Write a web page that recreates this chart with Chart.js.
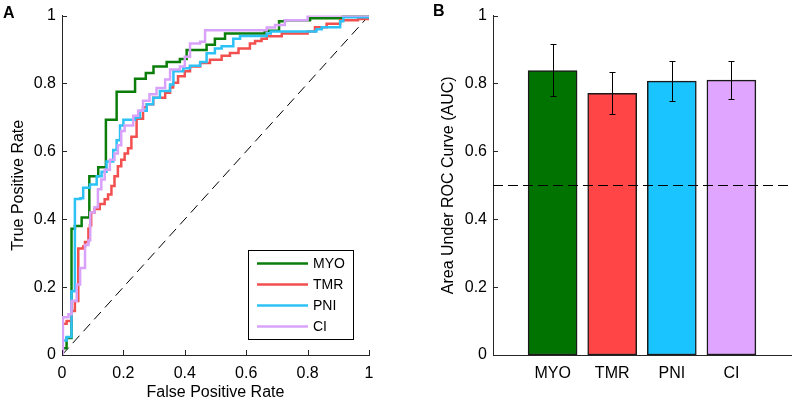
<!DOCTYPE html>
<html>
<head>
<meta charset="utf-8">
<script src="https://cdn.jsdelivr.net/npm/chart.js@4/dist/chart.umd.min.js"></script>
<style>
  body { margin: 0; background: #fff; }
  #wrap { position: relative; width: 800px; height: 402px; font-family: "Liberation Sans", Arial, sans-serif; }
  .panel { position: absolute; top: 0; width: 400px; height: 402px; }
  .tag { position: absolute; font-weight: bold; font-size: 16px; line-height: 18px; color: #000; }
</style>
</head>
<body>
<div id="wrap">
  <div class="panel" style="left:0"><canvas id="chartRoc"></canvas></div>
  <div class="panel" style="left:400px"><canvas id="chartAuc"></canvas></div>
  <div class="tag" style="left:3px;top:4px">A</div>
  <div class="tag" style="left:433px;top:2px">B</div>
</div>
<script>
// datos
const categories = ['MYO', 'TMR', 'PNI', 'CI'];
const tickValues = [0, 0.2, 0.4, 0.6, 0.8, 1];
const tickLabels = ['0', '0.2', '0.4', '0.6', '0.8', '1'];

const myoFpr = [0, 0, 0.015, 0.031, 0.042, 0.064, 0.089, 0.118, 0.143, 0.178, 0.238, 0.273, 0.298, 0.341, 0.384, 0.406, 0.471, 0.498, 0.531, 0.660, 0.707, 0.726, 0.808, 0.915, 1];
const myoTpr = [0, 0.02, 0.05, 0.372, 0.380, 0.405, 0.527, 0.553, 0.693, 0.776, 0.814, 0.831, 0.850, 0.863, 0.872, 0.899, 0.914, 0.932, 0.947, 0.955, 0.983, 0.986, 0.992, 1, 1];

const tmrFpr = [0, 0, 0.015, 0.031, 0.042, 0.053, 0.069, 0.075, 0.086, 0.091, 0.095, 0.106, 0.123, 0.139, 0.150, 0.161, 0.171, 0.182, 0.193, 0.204, 0.215, 0.226, 0.243, 0.264, 0.276, 0.297, 0.336, 0.352, 0.362, 0.378, 0.400, 0.417, 0.450, 0.482, 0.520, 0.547, 0.575, 0.612, 0.629, 0.650, 0.667, 0.716, 0.800, 0.824, 0.862, 0.906, 0.964, 1];
const tmrTpr = [0, 0.092, 0.100, 0.130, 0.159, 0.314, 0.320, 0.333, 0.372, 0.382, 0.420, 0.430, 0.445, 0.459, 0.473, 0.498, 0.527, 0.556, 0.575, 0.594, 0.609, 0.643, 0.696, 0.730, 0.739, 0.758, 0.773, 0.788, 0.802, 0.821, 0.836, 0.850, 0.860, 0.870, 0.882, 0.890, 0.903, 0.918, 0.925, 0.932, 0.939, 0.947, 0.953, 0.966, 0.976, 0.986, 0.990, 1];

const pniFpr = [0, 0, 0.015, 0.031, 0.042, 0.060, 0.069, 0.091, 0.113, 0.129, 0.145, 0.167, 0.178, 0.189, 0.200, 0.238, 0.254, 0.276, 0.297, 0.319, 0.352, 0.363, 0.395, 0.417, 0.450, 0.471, 0.498, 0.520, 0.558, 0.580, 0.667, 0.680, 0.829, 0.846, 0.906, 0.916, 1];
const pniTpr = [0, 0.043, 0.053, 0.188, 0.460, 0.462, 0.493, 0.502, 0.527, 0.540, 0.570, 0.604, 0.633, 0.676, 0.693, 0.700, 0.720, 0.739, 0.758, 0.778, 0.797, 0.836, 0.845, 0.852, 0.863, 0.889, 0.903, 0.910, 0.932, 0.940, 0.947, 0.953, 0.960, 0.966, 0.983, 0.995, 1];

const ciFpr = [0, 0.003, 0.021, 0.031, 0.048, 0.059, 0.075, 0.086, 0.092, 0.106, 0.117, 0.128, 0.139, 0.156, 0.171, 0.182, 0.193, 0.204, 0.232, 0.248, 0.264, 0.285, 0.308, 0.336, 0.352, 0.384, 0.400, 0.417, 0.450, 0.466, 0.667, 0.694, 0.726, 0.800, 1];
const ciTpr = [0, 0.111, 0.120, 0.159, 0.208, 0.256, 0.324, 0.338, 0.420, 0.435, 0.488, 0.517, 0.546, 0.575, 0.594, 0.618, 0.660, 0.676, 0.705, 0.720, 0.749, 0.768, 0.787, 0.812, 0.841, 0.850, 0.879, 0.918, 0.923, 0.957, 0.965, 0.972, 0.986, 1, 1];

const chanceFpr = [0, 1];
const chanceTpr = [0, 1];

const aucValues = [0.838, 0.771, 0.807, 0.810];
const aucLower = [0.762, 0.709, 0.748, 0.754];
const aucUpper = [0.917, 0.835, 0.866, 0.866];
const chanceLevel = 0.5;

const lineColors = ['#0b7d0b', '#f24f4f', '#2cc2f5', '#d9a2fa'];
const barColors = ['#007300', '#ff4545', '#1ac4ff', '#e0a5ff'];
const axisColor = '#262626';
const FONT = '"Liberation Sans", Arial, sans-serif';

Chart.defaults.font.family = FONT;
Chart.defaults.color = '#000';

function pts(xs, ys) { return xs.map((x, i) => ({x: x, y: ys[i]})); }

// ticks hacia adentro
const inwardTicks = {
  id: 'inwardTicks',
  afterDraw(chart, args, opts) {
    const ctx = chart.ctx, len = 5;
    ctx.save();
    ctx.strokeStyle = axisColor;
    ctx.lineWidth = 1;
    ctx.beginPath();
    const ys = chart.scales.y;
    ys.ticks.forEach(t => {
      const py = Math.round(ys.getPixelForValue(t.value)) + 0.5;
      ctx.moveTo(ys.right, py); ctx.lineTo(ys.right + len, py);
    });
    if (opts.xTicks) {
      const xs = chart.scales.x;
      xs.ticks.forEach(t => {
        const px = Math.round(xs.getPixelForValue(t.value)) + 0.5;
        ctx.moveTo(px, xs.top); ctx.lineTo(px, xs.top - len);
      });
    }
    ctx.stroke();
    ctx.restore();
  }
};

// leyenda con caja dentro del area
const boxLegend = {
  id: 'boxLegend',
  afterDraw(chart) {
    const {ctx, chartArea} = chart;
    const w = 105, h = 89;
    const left = chartArea.right - 16 - w, top = chartArea.bottom - 16 - h;
    ctx.save();
    ctx.fillStyle = '#fff';
    ctx.fillRect(left, top, w, h);
    ctx.strokeStyle = '#000';
    ctx.lineWidth = 1;
    ctx.strokeRect(Math.round(left) + 0.5, Math.round(top) + 0.5, w, h);
    ctx.font = '14px ' + FONT;
    ctx.textBaseline = 'middle';
    ctx.fillStyle = '#000';
    categories.forEach((c, i) => {
      const y = top + 13.5 + i * 21;
      ctx.strokeStyle = lineColors[i];
      ctx.lineWidth = 2.5;
      ctx.beginPath();
      ctx.moveTo(left + 9, y); ctx.lineTo(left + 60, y);
      ctx.stroke();
      ctx.fillText(c, left + 65, y + 1);
    });
    ctx.restore();
  }
};

const rocSets = [[myoFpr, myoTpr], [tmrFpr, tmrTpr], [pniFpr, pniTpr], [ciFpr, ciTpr]];

new Chart(document.getElementById('chartRoc'), {
  type: 'line',
  data: {
    datasets: rocSets.map((s, i) => ({
      label: categories[i],
      data: pts(s[0], s[1]),
      borderColor: lineColors[i],
      borderWidth: 2.5,
      pointRadius: 0,
      stepped: 'before',
      order: 4 - i
    })).concat([{
      label: 'chance',
      data: pts(chanceFpr, chanceTpr),
      borderColor: '#000',
      borderWidth: 1,
      borderDash: [10, 6],
      pointRadius: 0,
      order: 10
    }])
  },
  options: {
    responsive: true,
    maintainAspectRatio: false,
    animation: false,
    layout: { padding: { left: 0, right: 31, top: 10, bottom: 0 } },
    plugins: { legend: { display: false }, tooltip: { enabled: false }, inwardTicks: { xTicks: true } },
    scales: {
      x: {
        type: 'linear', min: 0, max: 1,
        afterBuildTicks: s => { s.ticks = tickValues.map(v => ({value: v})); },
        afterFit: s => { s.height = 47; },
        grid: { display: false, drawTicks: false },
        border: { display: true, color: axisColor, width: 1 },
        ticks: { padding: 9, font: { size: 16 }, color: '#000', maxRotation: 0, callback: (v, i) => tickLabels[i] },
        title: { display: true, text: 'False Positive Rate', font: { size: 16 }, color: '#000', padding: { top: 0, bottom: 0 } }
      },
      y: {
        type: 'linear', min: 0, max: 1,
        afterBuildTicks: s => { s.ticks = tickValues.map(v => ({value: v})); },
        afterFit: s => { s.width = 62; },
        grid: { display: false, drawTicks: false },
        border: { display: true, color: axisColor, width: 1 },
        ticks: { padding: 6, font: { size: 16 }, color: '#000', callback: (v, i) => tickLabels[i] },
        title: { display: true, text: 'True Positive Rate', font: { size: 16 }, color: '#000', padding: { top: 9, bottom: 0 } }
      }
    }
  },
  plugins: [inwardTicks, boxLegend]
});

// barras de error y linea de azar
const errorBars = {
  id: 'errorBars',
  afterDatasetsDraw(chart) {
    const {ctx, chartArea} = chart;
    const ys = chart.scales.y;
    const meta = chart.getDatasetMeta(0);
    ctx.save();
    ctx.strokeStyle = '#000';
    ctx.lineWidth = 1;
    ctx.setLineDash([10, 5]);
    const py = Math.round(ys.getPixelForValue(chanceLevel)) + 0.5;
    ctx.beginPath();
    ctx.moveTo(chartArea.left, py); ctx.lineTo(chartArea.right, py);
    ctx.stroke();
    ctx.setLineDash([]);
    ctx.beginPath();
    categories.forEach((c, i) => {
      const bar = meta.data[i + 1];
      const x = Math.round(bar.x) + 0.5;
      const t = Math.round(ys.getPixelForValue(aucUpper[i])) + 0.5;
      const b = Math.round(ys.getPixelForValue(aucLower[i])) + 0.5;
      ctx.moveTo(x, t); ctx.lineTo(x, b);
      ctx.moveTo(x - 3, t); ctx.lineTo(x + 3, t);
      ctx.moveTo(x - 3, b); ctx.lineTo(x + 3, b);
    });
    ctx.stroke();
    ctx.restore();
  }
};

new Chart(document.getElementById('chartAuc'), {
  type: 'bar',
  data: {
    labels: [''].concat(categories, ['']),
    datasets: [{
      label: 'AUC',
      data: [null].concat(aucValues, [null]),
      backgroundColor: [null].concat(barColors, [null]),
      borderColor: '#1a1a1a',
      borderWidth: 1.5,
      borderSkipped: false,
      barThickness: 49
    }]
  },
  options: {
    responsive: true,
    maintainAspectRatio: false,
    animation: false,
    layout: { padding: { left: 0, right: 0, top: 10, bottom: 0 } },
    plugins: { legend: { display: false }, tooltip: { enabled: false }, inwardTicks: { xTicks: false } },
    scales: {
      x: {
        type: 'category', offset: false,
        afterFit: s => { s.height = 47; },
        grid: { display: false, drawTicks: false },
        border: { display: true, color: axisColor, width: 1 },
        ticks: { padding: 9, font: { size: 16 }, color: '#000', maxRotation: 0, autoSkip: false }
      },
      y: {
        type: 'linear', min: 0, max: 1,
        afterBuildTicks: s => { s.ticks = tickValues.map(v => ({value: v})); },
        afterFit: s => { s.width = 93; },
        grid: { display: false, drawTicks: false },
        border: { display: true, color: axisColor, width: 1 },
        ticks: { padding: 6, font: { size: 16 }, color: '#000', callback: (v, i) => tickLabels[i] },
        title: { display: true, text: 'Area Under ROC Curve (AUC)', font: { size: 16 }, color: '#000', padding: { top: 39, bottom: 0 } }
      }
    }
  },
  plugins: [inwardTicks, errorBars]
});
</script>
</body>
</html>
